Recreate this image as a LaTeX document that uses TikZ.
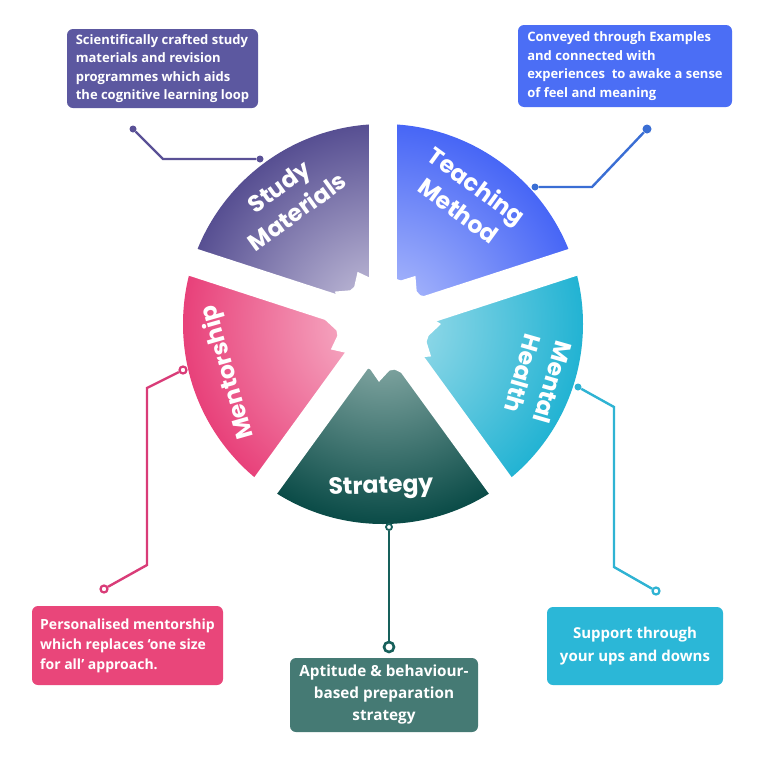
\documentclass[tikz,border=0pt]{standalone}
\usepackage{fontspec}
\newfontfamily\pop{Poppins}
\newfontfamily\osans{Open Sans}
\usetikzlibrary{calc}
\definecolor{stO}{HTML}{574F92}
\definecolor{stI}{HTML}{CFCBE2}
\definecolor{teO}{HTML}{4766F6}
\definecolor{teI}{HTML}{B8C4FC}
\definecolor{meO}{HTML}{22B3D3}
\definecolor{meI}{HTML}{A8E0EC}
\definecolor{srO}{HTML}{0A4B47}
\definecolor{srI}{HTML}{9CBAB6}
\definecolor{mnO}{HTML}{E8417A}
\definecolor{mnI}{HTML}{F8BDD0}
\definecolor{stL}{HTML}{5A5196}
\definecolor{stB}{HTML}{5C58A0}
\definecolor{teL}{HTML}{3A6ED4}
\definecolor{teB}{HTML}{4B6EF5}
\definecolor{mnL}{HTML}{D93C78}
\definecolor{mnB}{HTML}{E9467A}
\definecolor{srL}{HTML}{17605B}
\definecolor{srB}{HTML}{457A74}
\definecolor{meL}{HTML}{2FB3D3}
\definecolor{meB}{HTML}{2BB7D7}
\newcommand\wedgeshade[4]{%
  \begin{scope}
    \clip (C) -- ($(C)+(-#1:400)$) -- ($(C)+(-#2:400)$) -- cycle;
    \shade[inner color=#3, outer color=#4] (C) circle (200);
  \end{scope}}
\tikzset{
  wlabel/.style={text=white, font=\pop\bfseries\fontsize{23.5}{31}\selectfont, align=center, inner sep=0pt},
  infobox/.style={rounded corners=6pt, text=white, font=\osans\bfseries\fontsize{13}{18.5}\selectfont, inner sep=0pt},
  conn/.style={line width=2.4pt},
  dotf/.style={circle, fill=#1, minimum size=7pt, inner sep=0pt},
  doto/.style={circle, draw=#1, fill=white, line width=2.2pt, minimum size=7pt, inner sep=0pt},
}
\begin{document}
\begin{tikzpicture}[x=1pt,y=-1pt]
\useasboundingbox (0,0) rectangle (768,758);
\fill[white] (0,0) rectangle (768,758);
\coordinate (C) at (383,324);
% wedges
\wedgeshade{90}{162}{stI}{stO}
\wedgeshade{18}{90}{teI}{teO}
\wedgeshade{-54}{18}{meI}{meO}
\wedgeshade{-126}{-54}{srI}{srO}
\wedgeshade{162}{234}{mnI}{mnO}
% gaps
\foreach \g in {90,18,-54,-126,162}
  \draw[white, line width=28pt] (C) -- ($(C)+(-\g:215)$);
% centre
\fill[white] ($(C)+(0:58)$) \foreach \k in {1,...,23} { -- ($(C)+({\k*15+4}:{ifthenelse(mod(\k,2)==0,58,45)})$) } -- cycle;
\fill[white] (C) circle (47);
% labels
\node[wlabel, rotate=36] (tStudy) at (288,199) {Study\\Materials};
\node[wlabel, rotate=-36] (tTeach) at (468,198) {Teaching\\Method};
\node[wlabel, rotate=-106] (tMental) at (538,378) {Mental\\Health};
\node[wlabel, rotate=2] (tStrat) at (381,488) {Strategy};
\node[wlabel, rotate=106] (tMentor) at (228,372) {Mentorship};
% boxes
\node[infobox, fill=stB, minimum width=191pt, minimum height=79pt, align=left] (bStudy) at (162.5,68.5)
 {Scientifically crafted study\\materials and revision\\programmes which aids\\the cognitive learning loop};
\node[infobox, fill=teB, minimum width=214pt, minimum height=82pt, align=left] (bTeach) at (625,66)
 {Conveyed through Examples\\and connected with\\experiences\ \ to awake a sense\\of feel and meaning};
\node[infobox, fill=mnB, minimum width=191pt, minimum height=79pt, align=left, font=\osans\bfseries\fontsize{14}{20}\selectfont] (bMentor) at (127.5,645.5)
 {Personalised mentorship\\which replaces ‘one size\\for all’ approach.};
\node[infobox, fill=srB, minimum width=188pt, minimum height=74pt, align=center, font=\osans\bfseries\fontsize{15.3}{22}\selectfont] (bStrat) at (384,695)
 {Aptitude \& behaviour-\\based preparation\\strategy};
\node[infobox, fill=meB, minimum width=176pt, minimum height=78pt, align=center, font=\osans\bfseries\fontsize{15}{23}\selectfont] (bMental) at (635,646)
 {Support through\\your ups and downs};
% connectors
\node[dotf=stL] (sdA) at (260,159) {};
\node[dotf=stL] (sdB) at (133,129) {};
\coordinate (sK) at (163,159);
\draw[conn, stL] (sdA) -- (sK) -- (sdB);
\node[dotf=teL] (tdA) at (535,187) {};
\node[dotf=teL, minimum size=9pt] (tdB) at (647,129) {};
\coordinate (tK) at (592,187);
\draw[conn, teL] (tdA) -- (tK) -- (tdB);
\node[doto=mnL] (mdA) at (183,370) {};
\node[doto=mnL] (mdB) at (104,589) {};
\coordinate (mK1) at (147,388);
\coordinate (mK2) at (147,565);
\draw[conn, mnL] (mdA) -- (mK1) -- (mK2) -- (mdB);
\node[doto=srL, minimum size=6pt, line width=1.8pt] (rdA) at (389,527) {};
\node[doto=srL, minimum size=10pt, line width=2.6pt] (rdB) at (389,647) {};
\draw[conn, srL] (rdA) -- (rdB);
\node[dotf=meL] (edA) at (578,387) {};
\node[doto=meL] (edB) at (656,591) {};
\coordinate (eK1) at (614,407);
\coordinate (eK2) at (614,567);
\draw[conn, meL] (edA) -- (eK1) -- (eK2) -- (edB);
\end{tikzpicture}
\end{document}
